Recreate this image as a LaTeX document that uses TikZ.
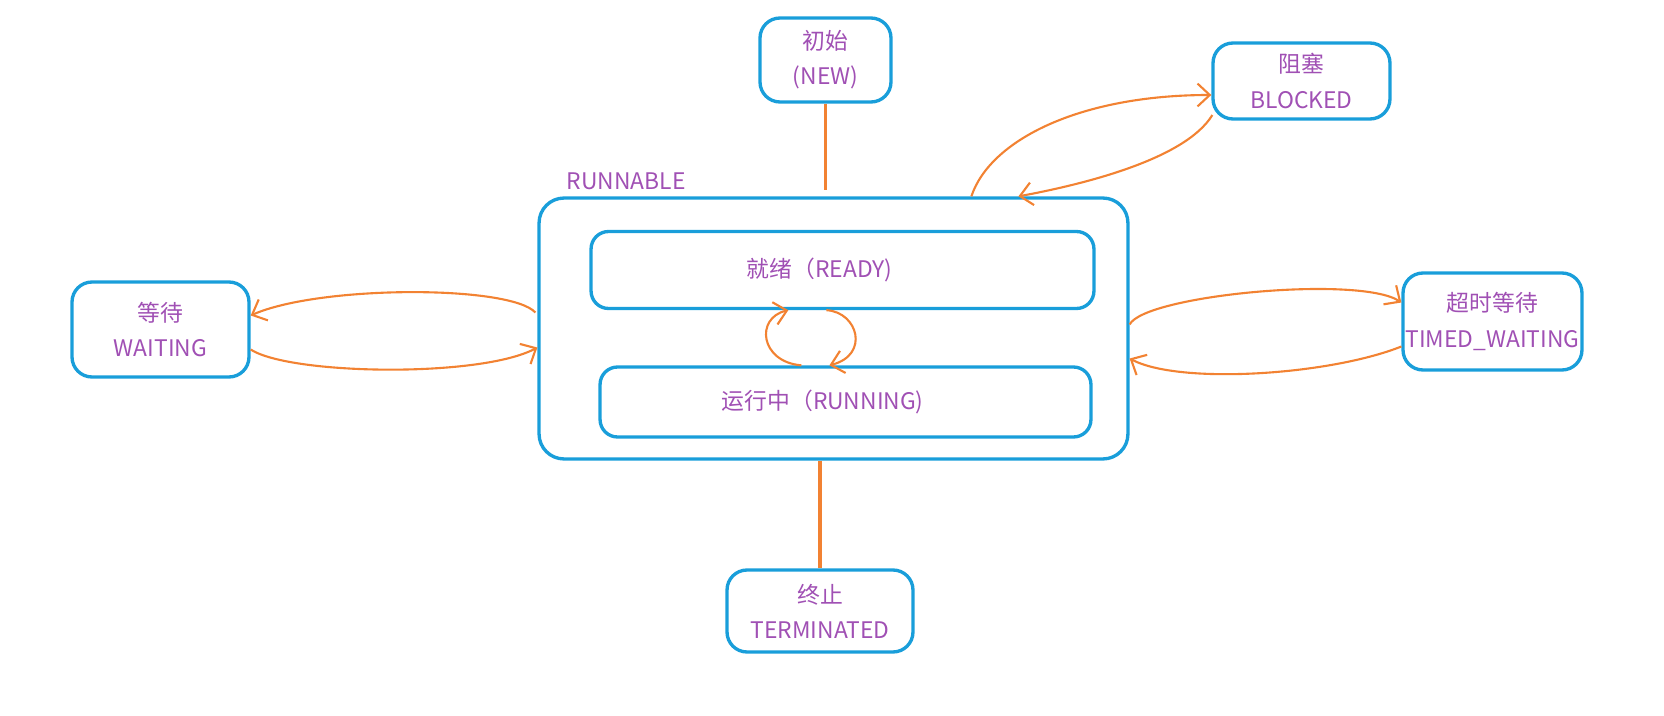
\documentclass[tikz,border=0pt]{standalone}
\usepackage{fontspec}
\setmainfont{Noto Sans CJK SC}
\usepackage{tikz}
\usetikzlibrary{arrows.meta, positioning, calc}
\definecolor{azul}{RGB}{25,158,218}
\definecolor{laranja}{RGB}{242,130,50}
\definecolor{roxo}{RGB}{160,80,180}

\begin{document}
\begin{tikzpicture}[x=0.02cm, y=-0.02cm,
        every node/.style={align=center, text=roxo, font=\fontsize{13pt}{20pt}\selectfont},
        statebox/.style={draw=azul, line width=1.9pt, rounded corners=0.4cm, inner sep=0pt},
        substate/.style={draw=azul, line width=1.9pt, rounded corners=0.35cm, inner sep=0pt},
        trans/.style={-{Straight Barb[length=7pt, width=13pt]}, line width=1.2pt, laranja},
        link/.style={line width=2.2pt, laranja}
    ]
        \useasboundingbox (0,0) rectangle (1664,716);
        \node[statebox, rounded corners=0.5cm, minimum width=11.78cm, minimum height=5.22cm] (runnable) at (833.5,328.5) {};
        \node[inner sep=0pt, above right=0.12cm and 0.58cm of runnable.north west] (runlabel) {RUNNABLE};
        \node[substate, minimum width=10.06cm, minimum height=1.54cm] (ready) at (842.5,270) {\hspace*{-26pt}就绪（READY)};
        \node[substate, minimum width=9.82cm, minimum height=1.4cm] (running) at (845.5,402) {\hspace*{-26pt}运行中（RUNNING)};
        \node[statebox, minimum width=2.62cm, minimum height=1.68cm] (new) at (825.5,60) {初始\\(NEW)};
        \node[statebox, minimum width=3.54cm, minimum height=1.52cm] (blocked) at (1301.5,81) {阻塞\\BLOCKED};
        \node[statebox, minimum width=3.54cm, minimum height=1.9cm] (waiting) at (160.5,329.5) {等待\\WAITING};
        \node[statebox, minimum width=3.58cm, minimum height=1.94cm] (timed) at (1492.5,321.5) {超时等待\\TIMED\_WAITING};
        \node[statebox, minimum width=3.72cm, minimum height=1.64cm] (terminated) at (820,611) {终止\\TERMINATED};
        \draw[link, shorten >=0.12cm] (new.south) -- (new.south |- runnable.north);
        \draw[link] (runnable.south -| terminated.north) -- (terminated.north);
        \draw[trans] ($(runnable.north west)+(434,0)$) .. controls (990,140) and (1080,95) .. ($(blocked.west)+(0,14)$);
        \draw[trans] ($(blocked.west)+(1,34)$) .. controls (1185,160) and (1080,185) .. ($(runnable.north west)+(481,0)$);
        \draw[trans] ($(runnable.west)+(-2,-16)$) .. controls (510,285) and (320,285) .. ($(waiting.east)+(0,-14)$);
        \draw[trans] ($(waiting.east)+(0,20)$) .. controls (290,375) and (480,378) .. ($(runnable.west)+(0,19)$);
        \draw[trans] ($(runnable.east)+(0,-4)$) .. controls (1145,295) and (1360,275) .. ($(timed.west)+(0,-19)$);
        \draw[trans] ($(timed.west)+(0,25)$) .. controls (1330,375) and (1180,385) .. ($(runnable.east)+(0,30)$);
        \draw[trans] ($(running.north west)+(203,0)$) .. controls (760,362) and (755,318) .. ($(ready.south west)+(199,0)$);
        \draw[trans] ($(ready.south west)+(237,0)$) .. controls (858,312) and (870,355) .. ($(running.north west)+(231,0)$);
    \end{tikzpicture}
\end{document}
